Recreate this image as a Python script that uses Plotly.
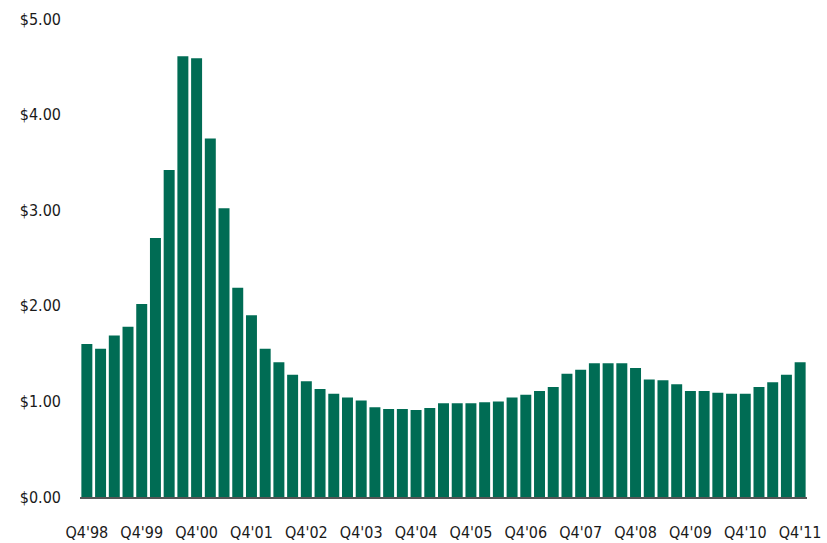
import plotly.graph_objects as go

# Quarterly values, Q4'98 .. Q4'11
values = [1.60, 1.55, 1.69, 1.78, 2.02, 2.71, 3.42, 4.61, 4.59, 3.75,
          3.02, 2.19, 1.90, 1.55, 1.41, 1.28, 1.21, 1.13, 1.08, 1.04,
          1.01, 0.94, 0.92, 0.92, 0.91, 0.93, 0.98, 0.98, 0.98, 0.99,
          1.00, 1.04, 1.07, 1.11, 1.15, 1.29, 1.33, 1.40, 1.40, 1.40,
          1.35, 1.23, 1.22, 1.18, 1.11, 1.11, 1.09, 1.08, 1.08, 1.15,
          1.20, 1.28, 1.41]

quarters = []
q, y = 4, 98
for _ in range(len(values)):
    quarters.append(f"Q{q}'{y % 100:02d}")
    q += 1
    if q > 4:
        q = 1
        y += 1

tick_labels = ["Q4'98", "Q4'99", "Q4'00", "Q4'01", "Q4'02", "Q4'03", "Q4'04",
               "Q4'05", "Q4'06", "Q4'07", "Q4'08", "Q4'09", "Q4'10", "Q4'11"]
y_ticks = [0, 1, 2, 3, 4, 5]
y_tick_text = ["$0.00", "$1.00", "$2.00", "$3.00", "$4.00", "$5.00"]

font_family = "Liberation Sans Narrow, DejaVu Sans Condensed, Arial Narrow, sans-serif"

fig = go.Figure(go.Bar(x=quarters, y=values, marker_color="#006c54",
                       marker_line_width=0))

fig.update_layout(
    width=827, height=543,
    margin=dict(l=80, r=20, t=19, b=46, autoexpand=False),
    plot_bgcolor="white", paper_bgcolor="white",
    bargap=0.2,
    showlegend=False,
    font=dict(family=font_family, size=16, color="#1a1a1a"),
)
fig.update_xaxes(
    type="category", automargin=False,
    tickmode="array", tickvals=tick_labels, ticktext=tick_labels,
    showline=True, linecolor="#555555", linewidth=2,
    showgrid=False, ticks="", ticklabelstandoff=20,
    tickfont=dict(family=font_family, size=16, color="#1a1a1a"),
)
fig.update_yaxes(
    range=[0, 5], automargin=False,
    tickmode="array", tickvals=y_ticks, ticktext=y_tick_text,
    showgrid=False, zeroline=False, showline=False, ticks="",
    ticklabelstandoff=18,
    tickfont=dict(family=font_family, size=16, color="#1a1a1a"),
)

fig.write_html("out.html")
